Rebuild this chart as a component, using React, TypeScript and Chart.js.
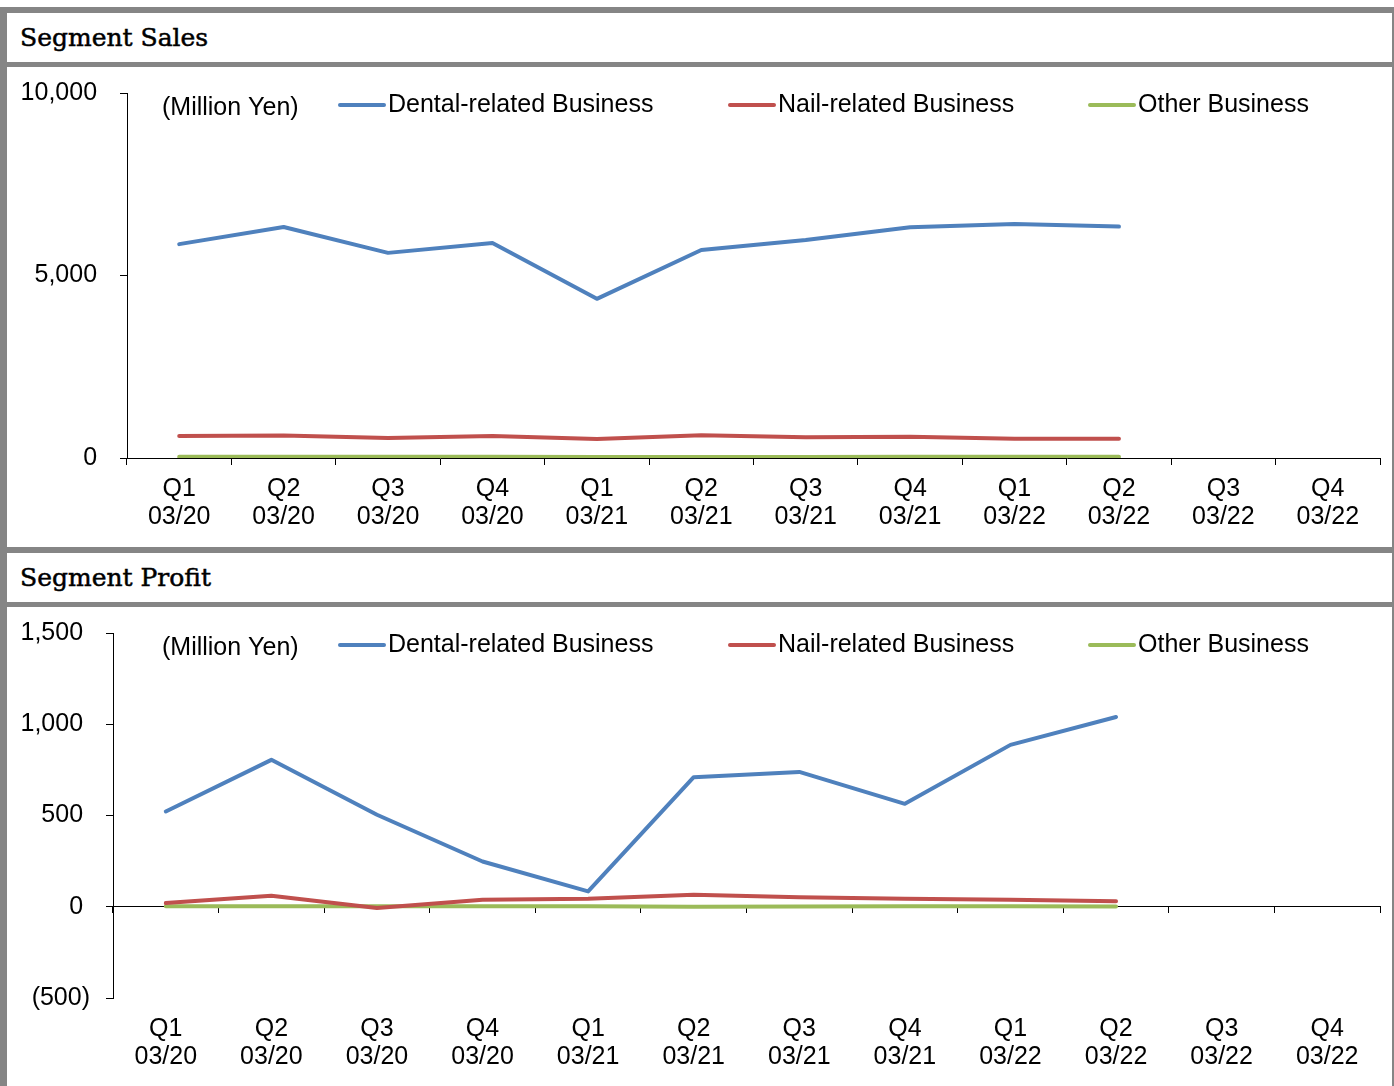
import React, { useEffect, useRef } from 'react';
import { Chart, registerables } from 'chart.js';

Chart.register(...registerables);

// ---------- data ----------
const quarters = ['Q1', 'Q2', 'Q3', 'Q4', 'Q1', 'Q2', 'Q3', 'Q4', 'Q1', 'Q2', 'Q3', 'Q4'];
const fiscalYears = ['03/20', '03/20', '03/20', '03/20', '03/21', '03/21', '03/21', '03/21', '03/22', '03/22', '03/22', '03/22'];

const seriesNames = ['Dental-related Business', 'Nail-related Business', 'Other Business'];
const seriesColors = ['#4F81BD', '#C0504D', '#9BBB59'];

const salesDental = [5860, 6330, 5620, 5890, 4360, 5700, 5970, 6320, 6410, 6340, null, null];
const salesNail = [603, 616, 548, 603, 520, 622, 567, 584, 529, 529, null, null];
const salesOther = [35, 35, 35, 35, 30, 30, 30, 35, 35, 35, null, null];

const profitDental = [522, 805, 504, 248, 84, 710, 739, 564, 887, 1040, null, null];
const profitNail = [20, 60, -7, 38, 44, 66, 52, 44, 38, 30, null, null];
const profitOther = [3, 3, 3, 3, 3, 0, 2, 3, 3, 2, null, null];

const salesTicks = { min: 0, max: 10000, step: 5000 };
const profitTicks = { min: -500, max: 1500, step: 500 };
const unitLabel = '(Million Yen)';

// ---------- helpers ----------
const FONT = '"Liberation Sans", Arial, sans-serif';

const fmt = (v: number) =>
  v < 0 ? `(${Math.abs(v).toLocaleString('en-US')})` : `${v.toLocaleString('en-US')} `;

const legendPlugin = {
  id: 'customLegend',
  afterDraw(chart: any, _args: any, opts: any) {
    const { ctx, chartArea } = chart;
    ctx.save();
    ctx.font = `25px ${FONT}`;
    ctx.fillStyle = '#000';
    ctx.textBaseline = 'middle';
    ctx.textAlign = 'left';
    ctx.fillText(opts.unitText, opts.unitX, chartArea.top + opts.unitDy);
    chart.data.datasets.forEach((ds: any, i: number) => {
      const x = opts.itemX[i];
      const y = chartArea.top + opts.itemDy;
      ctx.strokeStyle = ds.borderColor;
      ctx.lineWidth = 4;
      ctx.lineCap = 'round';
      ctx.beginPath();
      ctx.moveTo(x, y);
      ctx.lineTo(x + 44, y);
      ctx.stroke();
      ctx.fillText(ds.label, x + 48, y);
    });
    ctx.restore();
  },
};

function makeConfig(series: (number | null)[][], ticks: { min: number; max: number; step: number }, yWidth: number, bottomH: number) {
  const labels = quarters.map((q, i) => [q, fiscalYears[i]]);
  return {
    type: 'line',
    data: {
      labels,
      datasets: series.map((d, i) => ({
        label: seriesNames[i],
        data: d,
        borderColor: seriesColors[i],
        backgroundColor: seriesColors[i],
        borderWidth: 4,
        borderCapStyle: 'round',
        borderJoinStyle: 'round',
        pointRadius: 0,
        pointHoverRadius: 0,
        tension: 0,
        fill: false,
        xAxisID: 'x',
        yAxisID: 'y',
      })),
    },
    options: {
      animation: false,
      responsive: false,
      events: [],
      layout: { padding: { top: 26, right: 12, bottom: 0, left: 0 } },
      plugins: {
        legend: { display: false },
        tooltip: { enabled: false },
        customLegend: {
          unitText: unitLabel,
          unitX: 155,
          unitDy: 15,
          itemX: [333, 723, 1083],
          itemDy: 12,
        },
      },
      scales: {
        x: {
          type: 'category',
          position: { y: 0 },
          offset: true,
          grid: {
            display: true,
            drawOnChartArea: false,
            drawTicks: true,
            tickLength: 6,
            color: '#000',
            lineWidth: 1,
            offset: true,
          },
          border: { display: true, color: '#000', width: 1 },
          ticks: { display: false },
        },
        xl: {
          type: 'category',
          position: 'bottom',
          offset: true,
          grid: { display: false, drawTicks: false },
          border: { display: false },
          ticks: {
            autoSkip: false,
            maxRotation: 0,
            minRotation: 0,
            padding: 17,
            color: '#000',
            font: { family: FONT, size: 25, lineHeight: 1.12 },
          },
          afterFit: (s: any) => {
            s.height = bottomH;
          },
        },
        y: {
          type: 'linear',
          position: 'left',
          min: ticks.min,
          max: ticks.max,
          grid: {
            display: true,
            drawOnChartArea: false,
            drawTicks: true,
            tickLength: 7,
            color: '#000',
            lineWidth: 1,
          },
          border: { display: true, color: '#000', width: 1 },
          ticks: {
            stepSize: ticks.step,
            padding: 16,
            color: '#000',
            font: { family: FONT, size: 25 },
            callback: (v: any) => fmt(Number(v)),
          },
          afterFit: (s: any) => {
            s.width = yWidth;
            s.paddingTop = 0;
            s.paddingBottom = 0;
          },
        },
      },
    },
    plugins: [legendPlugin],
  };
}

function LineChart({ config, width, height }: { config: any; width: number; height: number }) {
  const ref = useRef<HTMLCanvasElement | null>(null);
  useEffect(() => {
    if (!ref.current) return;
    const chart = new Chart(ref.current, config);
    return () => chart.destroy();
  }, [config]);
  return <canvas ref={ref} width={width} height={height} style={{ display: 'block', width, height }} />;
}

const GRAY = '#858585';
const PANEL_X = 7;
const PANEL_W = 1385;

const titleStyle = (top: number): React.CSSProperties => ({
  position: 'absolute',
  left: PANEL_X,
  top,
  width: PANEL_W,
  height: 49,
  background: '#fff',
  fontFamily: '"DejaVu Serif", serif',
  fontSize: 25,
  lineHeight: '50px',
  paddingLeft: 13,
  boxSizing: 'border-box',
  color: '#000',
  WebkitTextStroke: '0.5px #000',
});

const salesConfig = makeConfig([salesDental, salesNail, salesOther], salesTicks, 120, 89);
const profitConfig = makeConfig([profitDental, profitNail, profitOther], profitTicks, 106, 88);

export default function App() {
  return (
    <div style={{ position: 'absolute', left: 0, top: 0, width: 1394, height: 1086, background: '#fff', overflow: 'hidden' }}>
      <div style={{ position: 'absolute', left: 0, top: 7, width: 1394, height: 1079, background: GRAY }} />
      <div style={titleStyle(13)}>Segment Sales</div>
      <div style={{ position: 'absolute', left: PANEL_X, top: 67, width: PANEL_W, height: 480, background: '#fff' }}>
        <LineChart config={salesConfig} width={PANEL_W} height={480} />
      </div>
      <div style={titleStyle(553)}>Segment Profit</div>
      <div style={{ position: 'absolute', left: PANEL_X, top: 607, width: PANEL_W, height: 479, background: '#fff' }}>
        <LineChart config={profitConfig} width={PANEL_W} height={479} />
      </div>
    </div>
  );
}
